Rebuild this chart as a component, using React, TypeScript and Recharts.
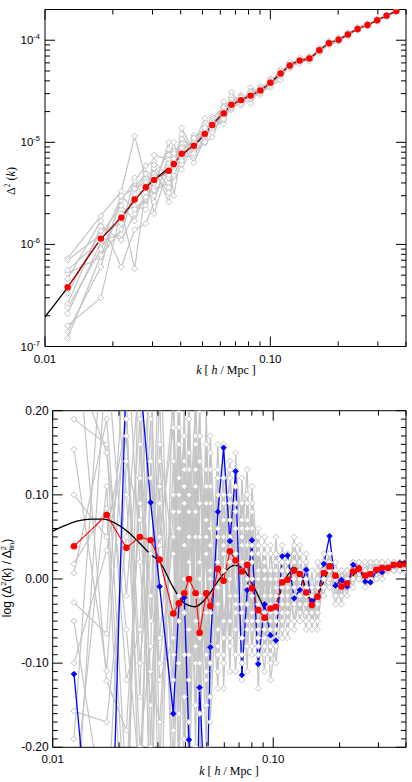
import React from "react";
import { LineChart, Line, XAxis, YAxis, ReferenceLine } from "recharts";

// ---- top panel: Delta^2(k) ----
const K_TOP = [0.0126, 0.0177, 0.0218, 0.025, 0.028, 0.0305, 0.0354, 0.0373, 0.0404, 0.0458, 0.0512, 0.0552, 0.0621, 0.0672, 0.0741, 0.0818, 0.0903, 0.1, 0.111, 0.122, 0.135, 0.149, 0.165, 0.182, 0.201, 0.221, 0.244, 0.27, 0.298, 0.328, 0.362];
const RED_TOP = [3.8e-7, 1.14e-6, 1.83e-6, 2.75e-6, 3.63e-6, 4.28e-6, 5.27e-6, 6.13e-6, 7.74e-6, 9.27e-6, 1.21e-5, 1.48e-5, 1.92e-5, 2.33e-5, 2.59e-5, 2.87e-5, 3.22e-5, 3.83e-5, 4.72e-5, 5.65e-5, 6.32e-5, 6.62e-5, 7.97e-5, 9.35e-5, 1.01e-4, 1.14e-4, 1.29e-4, 1.41e-4, 1.57e-4, 1.74e-4, 1.93e-4];

const GRAY_TOP_1 = [7.3e-7, 1.9e-6, 3.3e-6, 1.15e-5, 4.4e-6, 3.6e-6, 1.0e-5, 4.6e-6, 1.38e-5, 8.0e-6, 1.45e-5, 1.3e-5, 2.5e-5, 2.2e-5, 2.9e-5, 2.6e-5, 3.55e-5, 3.7e-5, 5.2e-5, 5.4e-5, 6.6e-5, 6.4e-5, 8.3e-5, 9.0e-5, 1.05e-4, 1.11e-4, 1.33e-4, 1.38e-4, 1.61e-4, 1.71e-4, 1.96e-4];
const GRAY_TOP_2 = [5.2e-7, 7.5e-7, 2.7e-6, 4.2e-6, 5.9e-6, 6.5e-6, 4.5e-6, 8.2e-6, 6.1e-6, 1.18e-5, 1.05e-5, 1.78e-5, 1.75e-5, 3.1e-5, 2.35e-5, 3.45e-5, 3.0e-5, 4.22e-5, 4.5e-5, 6.0e-5, 6.1e-5, 6.9e-5, 7.7e-5, 9.7e-5, 9.8e-5, 1.17e-4, 1.26e-4, 1.45e-4, 1.54e-4, 1.78e-4, 1.9e-4];
const GRAY_TOP_3 = [2.6e-7, 1.5e-6, 1.1e-6, 2.0e-6, 2.8e-6, 7.5e-6, 6.8e-6, 1.0e-5, 5.4e-6, 9.9e-6, 1.72e-5, 1.4e-5, 2.1e-5, 2.07e-5, 2.7e-5, 2.4e-5, 3.35e-5, 3.5e-5, 4.1e-5, 5.8e-5, 6.0e-5, 6.8e-5, 7.6e-5, 9.5e-5, 1.03e-4, 1.12e-4, 1.31e-4, 1.39e-4, 1.6e-4, 1.72e-4, 1.95e-4];
const GRAY_TOP_4 = [1.6e-7, 3.0e-7, 2.2e-6, 5.8e-7, 3.5e-6, 4.9e-6, 3.2e-6, 6.5e-6, 9.6e-6, 6.3e-6, 1.1e-5, 1.6e-5, 1.53e-5, 2.5e-5, 2.3e-5, 3.0e-5, 2.9e-5, 4.0e-5, 4.9e-5, 5.3e-5, 6.5e-5, 6.3e-5, 8.2e-5, 8.9e-5, 9.7e-5, 1.18e-4, 1.25e-4, 1.44e-4, 1.53e-4, 1.77e-4, 1.89e-4];
const GRAY_TOP_5 = [4.6e-7, 1.7e-6, 6.0e-7, 1.4e-6, 1.6e-6, 2.6e-6, 7.5e-6, 3.0e-6, 8.3e-6, 1.06e-5, 9.8e-6, 1.13e-5, 2.0e-5, 2.7e-5, 2.5e-5, 3.2e-5, 3.1e-5, 3.45e-5, 4.6e-5, 5.9e-5, 6.2e-5, 7.0e-5, 7.8e-5, 9.8e-5, 1.0e-4, 1.1e-4, 1.32e-4, 1.37e-4, 1.59e-4, 1.7e-4, 1.97e-4];
const GRAY_TOP_6 = [2.1e-7, 1.05e-6, 2.9e-6, 3.6e-6, 5.0e-6, 2.0e-6, 5.8e-6, 7.4e-6, 1.08e-5, 8.6e-6, 1.32e-5, 1.52e-5, 1.85e-5, 2.15e-5, 2.8e-5, 2.75e-5, 3.4e-5, 3.9e-5, 5.0e-5, 5.5e-5, 6.7e-5, 6.5e-5, 8.4e-5, 9.2e-5, 1.06e-4, 1.15e-4, 1.27e-4, 1.43e-4, 1.55e-4, 1.76e-4, 1.91e-4];
const GRAY_TOP_7 = [1.2e-7, 7.8e-7, 1.4e-6, 4.5e-6, 2.4e-6, 5.6e-6, 2.6e-6, 4.8e-6, 6.9e-6, 1.12e-5, 1.25e-5, 1.7e-5, 2.25e-5, 2.4e-5, 2.45e-5, 2.95e-5, 3.15e-5, 4.1e-5, 4.4e-5, 6.1e-5, 6.3e-5, 6.2e-5, 8.0e-5, 9.6e-5, 9.9e-5, 1.19e-4, 1.3e-4, 1.4e-4, 1.62e-4, 1.73e-4, 1.94e-4];
const GRAY_TOP_8 = [7.0e-7, 1.25e-6, 2.4e-6, 1.7e-6, 3.2e-6, 3.4e-6, 4.0e-6, 5.5e-6, 7.2e-6, 7.4e-6, 1.15e-5, 1.35e-5, 1.65e-5, 2.8e-5, 2.65e-5, 2.7e-5, 3.3e-5, 3.75e-5, 4.8e-5, 5.6e-5, 5.9e-5, 6.8e-5, 7.5e-5, 9.1e-5, 1.04e-4, 1.13e-4, 1.34e-4, 1.46e-4, 1.56e-4, 1.79e-4, 1.92e-4];
const GRAY_TOP_9 = [3.3e-7, 1.35e-6, 1.6e-6, 3.1e-6, 4.9e-6, 4.0e-6, 8.6e-6, 5.2e-6, 9.0e-6, 1.0e-5, 1.28e-5, 1.62e-5, 1.8e-5, 2.6e-5, 2.55e-5, 2.9e-5, 3.25e-5, 3.95e-5, 4.7e-5, 5.75e-5, 6.4e-5, 6.6e-5, 8.1e-5, 9.4e-5, 1.02e-4, 1.16e-4, 1.28e-4, 1.42e-4, 1.58e-4, 1.75e-4, 1.93e-4];
const GRAY_TOP_10 = [2.4e-7, 9.0e-7, 2.0e-6, 2.4e-6, 2.2e-6, 4.6e-6, 4.8e-6, 7.8e-6, 8.8e-6, 9.0e-6, 1.2e-5, 1.45e-5, 2.2e-5, 2.3e-5, 2.55e-5, 3.1e-5, 3.2e-5, 3.6e-5, 4.75e-5, 5.5e-5, 6.25e-5, 6.7e-5, 7.9e-5, 9.3e-5, 1.01e-4, 1.14e-4, 1.29e-4, 1.41e-4, 1.57e-4, 1.74e-4, 1.93e-4];
const GRAY_TOP_11 = [5.6e-7, 1.1e-6, 1.25e-6, 3.5e-6, 4.1e-6, 3.0e-6, 6.2e-6, 6.9e-6, 6.6e-6, 1.1e-5, 1.38e-5, 1.25e-5, 1.95e-5, 2.45e-5, 2.75e-5, 2.8e-5, 3.35e-5, 3.8e-5, 4.65e-5, 5.7e-5, 6.35e-5, 6.55e-5, 8.05e-5, 9.45e-5, 1.0e-4, 1.15e-4, 1.3e-4, 1.42e-4, 1.58e-4, 1.75e-4, 1.94e-4];
const GRAY_TOP_12 = [1.4e-7, 6.0e-7, 3.0e-6, 2.2e-6, 2.9e-6, 6.0e-6, 3.6e-6, 6.0e-6, 1.2e-5, 7.8e-6, 1.0e-5, 1.55e-5, 1.7e-5, 2.2e-5, 2.4e-5, 3.05e-5, 3.05e-5, 3.85e-5, 4.55e-5, 5.6e-5, 6.2e-5, 6.75e-5, 7.9e-5, 9.3e-5, 1.02e-4, 1.13e-4, 1.28e-4, 1.4e-4, 1.56e-4, 1.73e-4, 1.92e-4];

const K_TOP_CURVE = [0.01, 0.0126, 0.0177, 0.0218, 0.025, 0.028, 0.0305, 0.0354, 0.0404, 0.0458, 0.0512, 0.0552, 0.0621, 0.0672, 0.0741, 0.0818, 0.0903, 0.1, 0.111, 0.122, 0.135, 0.149, 0.165, 0.182, 0.201, 0.221, 0.244, 0.27, 0.298, 0.328, 0.362, 0.4];
const CURVE_TOP = [1.95e-7, 3.8e-7, 1.12e-6, 1.85e-6, 2.7e-6, 3.6e-6, 4.3e-6, 5.6e-6, 7.5e-6, 9.4e-6, 1.2e-5, 1.48e-5, 1.93e-5, 2.3e-5, 2.6e-5, 2.88e-5, 3.22e-5, 3.83e-5, 4.72e-5, 5.65e-5, 6.3e-5, 6.65e-5, 7.97e-5, 9.35e-5, 1.01e-4, 1.14e-4, 1.29e-4, 1.41e-4, 1.57e-4, 1.74e-4, 1.93e-4, 2.14e-4];

// ---- bottom panel: log(Delta^2 / Delta^2_lin) ----
const K_BOT = [0.01249, 0.01757, 0.02158, 0.02487, 0.0278, 0.03054, 0.03522, 0.03736, 0.0395, 0.04148, 0.04446, 0.04636, 0.04968, 0.05183, 0.05613, 0.05955, 0.06362, 0.06752, 0.07211, 0.07624, 0.08004, 0.08551, 0.09135, 0.09725, 0.1028, 0.1098, 0.1161, 0.1245, 0.132, 0.1411, 0.1497, 0.1588, 0.1697, 0.18, 0.1916, 0.204, 0.2164, 0.2304, 0.2444, 0.2611, 0.2761, 0.2939, 0.3119, 0.332, 0.3522, 0.375, 0.3951];
const RED_BOT = [0.039, 0.076, 0.037, 0.05, 0.046, 0.023, -0.041, -0.029, -0.017, 0.0, -0.017, -0.064, -0.017, -0.032, 0.012, -0.002, 0.033, 0.022, 0.009, 0.017, -0.011, -0.037, -0.046, -0.035, -0.033, -0.004, -0.001, 0.01, 0.006, -0.016, -0.031, -0.021, 0.007, 0.015, 0.004, -0.009, -0.005, 0.009, 0.012, 0.004, 0.006, 0.011, 0.013, 0.013, 0.017, 0.017, 0.018];
const BLUE_BOT = [-0.113, -0.53, 0.25, 0.24, 0.091, -0.009, -0.16, -0.03, -0.022, -0.191, -0.35, -0.129, -0.3, -0.081, 0.08, 0.156, 0.045, 0.128, -0.114, -0.013, 0.046, -0.101, -0.03, -0.067, -0.073, 0.027, 0.028, -0.023, -0.013, 0.011, -0.026, -0.021, 0.018, 0.051, -0.008, -0.001, -0.009, 0.017, 0.013, -0.003, -0.004, 0.01, 0.008, 0.013, 0.016, 0.019, 0.019];

const GRAY_BOT_1 = [0.19, 0.16, -0.25, 0.12, -0.05, 0.3, -0.18, 0.08, 0.17, -0.12, 0.05, 0.2, -0.09, 0.11, -0.06, 0.09, 0.14, -0.03, 0.06, -0.08, 0.02, -0.05, -0.11, 0.01, -0.04, 0.03, -0.06, 0.04, 0.02, -0.03, -0.05, 0.0, 0.02, 0.01, -0.02, 0.0, -0.01, 0.02, 0.01, 0.0, 0.01, 0.02, 0.01, 0.02, 0.01, 0.02, 0.02];
const GRAY_BOT_2 = [0.154, -0.109, 0.22, -0.3, 0.14, -0.07, 0.1, -0.21, -0.04, 0.13, -0.15, -0.02, 0.16, -0.1, 0.13, -0.07, -0.02, 0.09, -0.12, 0.04, -0.09, 0.03, -0.04, -0.09, 0.02, -0.06, 0.01, -0.03, 0.04, -0.05, -0.02, -0.04, 0.01, 0.03, -0.01, -0.02, 0.0, 0.01, 0.02, -0.01, 0.0, 0.01, 0.02, 0.01, 0.01, 0.02, 0.02];
const GRAY_BOT_3 = [0.018, 0.084, -0.4, 0.35, -0.2, 0.16, 0.03, 0.12, -0.26, 0.05, 0.21, -0.13, 0.07, -0.17, 0.02, 0.12, -0.08, 0.15, 0.01, -0.11, 0.08, -0.06, 0.0, -0.12, -0.07, 0.04, -0.02, 0.02, -0.04, 0.01, -0.04, -0.03, 0.03, 0.0, 0.01, -0.01, -0.01, 0.01, 0.01, 0.0, 0.02, 0.01, 0.01, 0.02, 0.02, 0.01, 0.02];
const GRAY_BOT_4 = [-0.1, 0.034, 0.17, -0.14, 0.3, -0.22, 0.14, -0.05, 0.09, -0.28, 0.11, 0.02, -0.2, 0.06, -0.11, 0.03, 0.1, -0.09, 0.12, 0.0, -0.04, 0.06, -0.07, -0.02, -0.1, -0.03, 0.02, -0.05, 0.0, 0.02, -0.06, -0.01, -0.02, 0.02, 0.0, -0.03, 0.01, 0.0, 0.01, 0.01, 0.01, 0.0, 0.02, 0.01, 0.02, 0.02, 0.01];
const GRAY_BOT_5 = [-0.157, -0.17, 0.05, 0.25, -0.33, 0.09, -0.12, 0.18, 0.0, 0.15, -0.2, 0.09, 0.11, -0.04, 0.16, -0.13, 0.05, 0.02, -0.07, 0.1, -0.02, -0.1, 0.03, -0.05, -0.01, -0.07, -0.03, 0.03, -0.02, -0.06, 0.01, -0.05, 0.0, 0.03, -0.02, 0.0, -0.02, 0.02, 0.0, 0.01, 0.0, 0.02, 0.01, 0.01, 0.02, 0.01, 0.02];
const GRAY_BOT_6 = [0.007, 0.19, -0.12, -0.06, 0.19, -0.35, 0.25, -0.1, 0.14, -0.06, 0.08, -0.24, 0.13, 0.04, -0.08, 0.07, -0.11, 0.11, 0.04, -0.05, 0.06, -0.13, 0.02, -0.06, 0.01, 0.0, -0.05, 0.01, -0.03, 0.03, -0.03, 0.0, -0.02, 0.02, 0.01, -0.01, 0.0, 0.02, 0.0, 0.01, 0.01, 0.01, 0.02, 0.02, 0.01, 0.02, 0.01];
const GRAY_BOT_7 = [-0.19, 0.35, 0.1, -0.2, -0.08, 0.22, -0.3, 0.06, -0.14, 0.19, -0.05, 0.14, -0.12, 0.09, 0.06, -0.09, 0.07, -0.06, 0.09, 0.02, -0.08, 0.0, -0.09, 0.04, -0.05, 0.02, -0.04, -0.01, 0.01, -0.02, -0.05, 0.02, 0.0, -0.01, 0.02, -0.02, 0.01, -0.01, 0.02, 0.0, 0.01, 0.02, 0.0, 0.02, 0.02, 0.01, 0.02];
const GRAY_BOT_8 = [-0.028, -0.065, 0.3, 0.02, -0.15, 0.05, 0.18, -0.16, 0.22, -0.09, 0.13, -0.07, 0.03, -0.14, 0.1, 0.01, -0.05, 0.06, -0.1, 0.07, 0.03, -0.08, -0.05, 0.0, -0.08, 0.02, -0.07, 0.0, 0.03, -0.04, -0.02, -0.06, 0.02, 0.0, -0.03, 0.01, -0.01, 0.0, 0.01, 0.02, 0.0, 0.01, 0.01, 0.01, 0.02, 0.02, 0.02];
const GRAY_BOT_9 = [0.33, -0.121, -0.18, 0.09, 0.24, -0.12, -0.07, 0.25, -0.09, 0.02, 0.17, -0.16, 0.2, 0.01, -0.13, 0.16, 0.0, -0.11, 0.05, 0.13, -0.06, 0.04, -0.02, -0.08, 0.05, -0.05, 0.03, -0.06, -0.01, 0.0, -0.03, -0.02, -0.01, 0.01, 0.0, -0.02, 0.01, 0.01, 0.0, 0.01, 0.02, 0.0, 0.01, 0.02, 0.01, 0.02, 0.02];
const GRAY_BOT_10 = [-0.33, 0.27, -0.02, 0.19, -0.27, 0.11, -0.22, 0.1, -0.02, 0.23, -0.1, 0.05, -0.04, 0.17, -0.03, 0.04, 0.09, -0.02, -0.04, -0.01, 0.09, -0.03, 0.05, -0.1, 0.0, -0.02, -0.01, 0.05, -0.05, -0.01, -0.04, 0.01, 0.01, 0.02, -0.01, 0.01, 0.0, 0.01, 0.02, 0.0, 0.01, 0.01, 0.02, 0.01, 0.02, 0.01, 0.02];
const GRAY_BOT_11 = [0.26, 0.15, -0.06, -0.24, 0.12, 0.04, 0.21, -0.02, 0.11, -0.17, 0.24, 0.0, -0.11, 0.13, -0.09, 0.05, 0.12, 0.03, -0.09, 0.06, 0.0, -0.07, 0.04, -0.03, -0.06, 0.01, 0.03, -0.02, 0.01, -0.04, -0.01, -0.02, 0.02, 0.01, 0.0, -0.01, 0.01, 0.01, 0.01, 0.01, 0.01, 0.02, 0.01, 0.01, 0.02, 0.02, 0.02];
const GRAY_BOT_12 = [-0.05, -0.3, 0.14, 0.07, -0.11, -0.17, 0.08, 0.16, -0.19, 0.1, -0.02, 0.17, 0.05, -0.08, 0.12, -0.05, 0.02, 0.08, -0.03, -0.06, 0.11, 0.01, -0.06, 0.03, -0.02, -0.04, 0.02, 0.0, -0.05, 0.0, -0.03, 0.01, -0.01, 0.02, -0.01, 0.0, -0.01, 0.01, 0.02, 0.0, 0.01, 0.01, 0.01, 0.02, 0.01, 0.02, 0.02];
const GRAY_BOT_13 = [0.1, 0.05, 0.19, -0.1, 0.03, 0.14, -0.09, 0.2, 0.04, -0.22, 0.16, -0.1, 0.09, 0.0, 0.05, -0.1, 0.13, -0.04, 0.02, 0.09, -0.05, 0.05, -0.08, -0.04, 0.03, -0.01, -0.04, 0.03, 0.01, -0.02, -0.04, 0.01, 0.0, 0.02, -0.02, -0.01, 0.0, 0.01, 0.01, 0.01, 0.0, 0.01, 0.02, 0.01, 0.02, 0.01, 0.02];
const GRAY_BOT_14 = [-0.26, 0.11, -0.31, 0.16, -0.02, -0.1, 0.05, -0.25, 0.13, 0.08, -0.08, 0.21, -0.15, 0.15, -0.01, 0.1, -0.07, 0.13, 0.07, -0.03, 0.04, -0.09, 0.01, -0.07, -0.03, 0.01, -0.05, 0.02, -0.02, -0.03, -0.02, -0.04, 0.01, 0.0, 0.0, -0.02, 0.0, 0.02, 0.0, 0.01, 0.01, 0.0, 0.01, 0.02, 0.02, 0.02, 0.01];

const K_BOT_CURVE = [0.01, 0.0115, 0.013, 0.015, 0.017, 0.019, 0.0217, 0.0245, 0.0276, 0.0306, 0.0352, 0.0392, 0.0442, 0.0499, 0.0564, 0.0636, 0.067, 0.0731, 0.0812, 0.087, 0.0948, 0.1028, 0.1098, 0.117, 0.1232, 0.132, 0.141, 0.15, 0.159, 0.17, 0.181, 0.192, 0.205, 0.22, 0.24, 0.265, 0.295, 0.33, 0.365, 0.4];
const CURVE_BOT = [0.057, 0.064, 0.069, 0.0712, 0.0712, 0.067, 0.057, 0.044, 0.03, 0.02, -0.01, -0.028, -0.033, -0.022, -0.002, 0.014, 0.0166, 0.012, -0.008, -0.024, -0.041, -0.03, -0.01, 0.006, 0.0139, 0.008, -0.012, -0.027, -0.02, -0.002, 0.012, 0.006, -0.004, -0.002, 0.008, 0.008, 0.011, 0.013, 0.016, 0.018];

// ---- axes ----
const X_TICKS = [0.01, 0.02, 0.03, 0.04, 0.05, 0.06, 0.07, 0.08, 0.09, 0.1, 0.2, 0.3, 0.4];
const X_MAJOR = [0.01, 0.1];
const X_LABELS = ["0.01", "0.10"];
const TOP_Y_EXP = [-7, -6, -5, -4];
const TOP_Y_TICKS = TOP_Y_EXP.flatMap((e) => [1, 2, 3, 4, 5, 6, 7, 8, 9].map((m) => m * Math.pow(10, e))).filter((v) => v < 1.99e-4);
const BOT_Y_TICKS = Array.from({ length: 41 }, (_, i) => Math.round((-0.2 + i * 0.01) * 100) / 100);

const TOP_PLOT_W = 361;
const TOP_PLOT_H = 337;
const BOT_PLOT_W = 353.3;
const BOT_PLOT_H = 336.6;

const SANS = "'Liberation Sans', Arial, Helvetica, sans-serif";
const SERIF = "'Liberation Serif', 'Times New Roman', serif";
const GRAY = "#c4c4c4";

const toPts = (ks: number[], vs: number[]) => ks.map((k, i) => ({ k, v: vs[i] }));

const makeXTick = (plotH: number) => (props: any) => {
  const { x, y, payload } = props;
  const idx = X_MAJOR.findIndex((m) => Math.abs(m - payload.value) < 1e-9);
  const len = idx >= 0 ? 10 : 5;
  return (
    <g>
      <line x1={x} x2={x} y1={y} y2={y - len} stroke="#000" />
      <line x1={x} x2={x} y1={y - plotH} y2={y - plotH + len} stroke="#000" />
      {idx >= 0 && (
        <text x={x} y={y + 16} textAnchor="middle" fontSize={11.5} fontFamily={SANS} fill="#000">
          {X_LABELS[idx]}
        </text>
      )}
    </g>
  );
};

const makeLogYTick = (plotW: number) => (props: any) => {
  const { x, y, payload } = props;
  const lg = Math.log10(payload.value);
  const major = Math.abs(lg - Math.round(lg)) < 1e-6;
  const len = major ? 10 : 5;
  return (
    <g>
      <line x1={x} x2={x + len} y1={y} y2={y} stroke="#000" />
      <line x1={x + plotW} x2={x + plotW - len} y1={y} y2={y} stroke="#000" />
      {major && (
        <text x={x - 5} y={y + 4} textAnchor="end" fontSize={11.5} fontFamily={SANS} fill="#000">
          10
          <tspan fontSize={7.5} dy={-5}>{Math.round(lg)}</tspan>
        </text>
      )}
    </g>
  );
};

const makeLinYTick = (plotW: number) => (props: any) => {
  const { x, y, payload } = props;
  const v = payload.value;
  const major = Math.round(v * 100) % 10 === 0;
  const len = major ? 10 : 5;
  return (
    <g>
      <line x1={x} x2={x + len} y1={y} y2={y} stroke="#000" />
      <line x1={x + plotW} x2={x + plotW - len} y1={y} y2={y} stroke="#000" />
      {major && (
        <text x={x - 4} y={y + 4} textAnchor="end" fontSize={12} fontFamily={SANS} fill="#000">
          {(Math.abs(v) < 1e-9 ? 0 : v).toFixed(2)}
        </text>
      )}
    </g>
  );
};

const grayDot = (p: any) => {
  if (p.cx == null || p.cy == null || isNaN(p.cy)) return <g key={p.index} />;
  const s = 3;
  return (
    <path
      key={p.index}
      d={`M${p.cx},${p.cy - s}L${p.cx + s},${p.cy}L${p.cx},${p.cy + s}L${p.cx - s},${p.cy}Z`}
      fill="#fff"
      stroke={GRAY}
      strokeWidth={1}
    />
  );
};

const blueDot = (p: any) => {
  if (p.cx == null || p.cy == null || isNaN(p.cy)) return <g key={p.index} />;
  const s = 2.8;
  return (
    <path
      key={p.index}
      d={`M${p.cx},${p.cy - s}L${p.cx + s},${p.cy}L${p.cx},${p.cy + s}L${p.cx - s},${p.cy}Z`}
      fill="#0000ff"
      stroke="#0000ff"
      strokeWidth={0.8}
    />
  );
};

const GRAY_TOP = [GRAY_TOP_1, GRAY_TOP_2, GRAY_TOP_3, GRAY_TOP_4, GRAY_TOP_5, GRAY_TOP_6, GRAY_TOP_7, GRAY_TOP_8, GRAY_TOP_9, GRAY_TOP_10, GRAY_TOP_11, GRAY_TOP_12];
const GRAY_BOT = [GRAY_BOT_1, GRAY_BOT_2, GRAY_BOT_3, GRAY_BOT_4, GRAY_BOT_5, GRAY_BOT_6, GRAY_BOT_7, GRAY_BOT_8, GRAY_BOT_9, GRAY_BOT_10, GRAY_BOT_11, GRAY_BOT_12, GRAY_BOT_13, GRAY_BOT_14];

export default function App() {
  return (
    <div style={{ position: "absolute", left: 0, top: 0, width: 412, height: 782, background: "#fff" }}>
      {/* top panel */}
      <div style={{ position: "absolute", left: 0, top: 0 }}>
        <LineChart width={412} height={390} margin={{ top: 9.5, right: 6, bottom: 0, left: 0 }}>
          <XAxis
            dataKey="k"
            type="number"
            scale="log"
            domain={[0.01, 0.4]}
            allowDataOverflow
            ticks={X_TICKS}
            interval={0}
            tickSize={0}
            tickMargin={0}
            tickLine={false}
            tick={makeXTick(TOP_PLOT_H)}
            height={43.5}
            axisLine={{ stroke: "#000" }}
          />
          <YAxis
            type="number"
            scale="log"
            domain={[1e-7, 2e-4]}
            allowDataOverflow
            ticks={TOP_Y_TICKS}
            interval={0}
            tickSize={0}
            tickMargin={0}
            tickLine={false}
            tick={makeLogYTick(TOP_PLOT_W)}
            width={45}
            axisLine={{ stroke: "#000" }}
          />
          <ReferenceLine y={2e-4} stroke="#000" />
          <ReferenceLine x={0.4} stroke="#000" />
          {GRAY_TOP.map((g, i) => (
            <Line key={"gt" + i} data={toPts(K_TOP, g)} dataKey="v" stroke={GRAY} strokeWidth={1.2} dot={grayDot} isAnimationActive={false} />
          ))}
          <Line data={toPts(K_TOP_CURVE, CURVE_TOP)} dataKey="v" type="monotone" stroke="#000" strokeWidth={1.3} dot={false} isAnimationActive={false} />
          <Line data={toPts(K_TOP, RED_TOP)} dataKey="v" stroke="#ff0000" strokeWidth={1} dot={{ r: 3.2, fill: "#ff0000", strokeWidth: 0 }} isAnimationActive={false} />
        </LineChart>
      </div>

      {/* bottom panel */}
      <div style={{ position: "absolute", left: 0, top: 390 }}>
        <LineChart width={412} height={392} margin={{ top: 20.7, right: 6, bottom: 0, left: 0 }}>
          <XAxis
            dataKey="k"
            type="number"
            scale="log"
            domain={[0.01, 0.4]}
            allowDataOverflow
            ticks={X_TICKS}
            interval={0}
            tickSize={0}
            tickMargin={0}
            tickLine={false}
            tick={makeXTick(BOT_PLOT_H)}
            height={34.7}
            axisLine={{ stroke: "#000" }}
          />
          <YAxis
            type="number"
            domain={[-0.2, 0.2]}
            allowDataOverflow
            ticks={BOT_Y_TICKS}
            interval={0}
            tickSize={0}
            tickMargin={0}
            tickLine={false}
            tick={makeLinYTick(BOT_PLOT_W)}
            width={52.7}
            axisLine={{ stroke: "#000" }}
          />
          <ReferenceLine y={0.2} stroke="#000" />
          <ReferenceLine x={0.4} stroke="#000" />
          {GRAY_BOT.map((g, i) => (
            <Line key={"gb" + i} data={toPts(K_BOT, g)} dataKey="v" stroke={GRAY} strokeWidth={1.2} dot={grayDot} isAnimationActive={false} />
          ))}
          <Line data={toPts(K_BOT_CURVE, CURVE_BOT)} dataKey="v" type="monotone" stroke="#000" strokeWidth={1.3} dot={false} isAnimationActive={false} />
          <Line data={toPts(K_BOT, BLUE_BOT)} dataKey="v" stroke="#0000ff" strokeWidth={1.3} dot={blueDot} isAnimationActive={false} />
          <Line data={toPts(K_BOT, RED_BOT)} dataKey="v" stroke="#ff0000" strokeWidth={1.1} dot={{ r: 3.3, fill: "#ff0000", strokeWidth: 0 }} isAnimationActive={false} />
        </LineChart>
      </div>

      {/* axis titles */}
      <svg width={412} height={782} style={{ position: "absolute", left: 0, top: 0, pointerEvents: "none" }}>
        <text x={226} y={374} textAnchor="middle" fontFamily={SERIF} fontSize={12} fill="#000">
          <tspan fontStyle="italic">k</tspan> [ <tspan fontStyle="italic">h</tspan> / Mpc ]
        </text>
        <text x={229} y={775} textAnchor="middle" fontFamily={SERIF} fontSize={12} fill="#000">
          <tspan fontStyle="italic">k</tspan> [ <tspan fontStyle="italic">h</tspan> / Mpc ]
        </text>
        <text transform="translate(15,181) rotate(-90)" textAnchor="middle" fontFamily={SERIF} fontSize={12} fill="#000">
          Δ<tspan fontSize={7.5} dy={-5}>2</tspan>
          <tspan dy={5}> (</tspan>
          <tspan fontStyle="italic">k</tspan>)
        </text>
        <text transform="translate(11,578) rotate(-90)" textAnchor="middle" fontFamily={SANS} fontSize={12} fill="#000">
          log (Δ<tspan fontSize={7.5} dy={-5}>2</tspan>
          <tspan dy={5}>(k) / Δ</tspan>
          <tspan fontSize={7.5} dy={-5}>2</tspan>
          <tspan fontSize={7.5} dx={-4.2} dy={8}>lin</tspan>
          <tspan dy={-3}>)</tspan>
        </text>
      </svg>
    </div>
  );
}
